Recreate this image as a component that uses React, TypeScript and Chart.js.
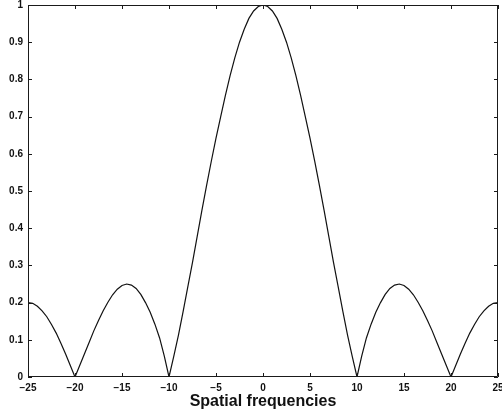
import React, { useEffect, useRef } from "react";
import { Chart, registerables } from "chart.js";

Chart.register(...registerables);

const X_VALUES = [
  -25, -24.5, -24, -23.5, -23, -22.5, -22, -21.5, -21, -20.5,
  -20, -19.5, -19, -18.5, -18, -17.5, -17, -16.5, -16, -15.5,
  -15, -14.5, -14, -13.5, -13, -12.5, -12, -11.5, -11, -10.5,
  -10, -9.5, -9, -8.5, -8, -7.5, -7, -6.5, -6, -5.5,
  -5, -4.5, -4, -3.5, -3, -2.5, -2, -1.5, -1, -0.5,
  0,
  0.5, 1, 1.5, 2, 2.5, 3, 3.5, 4, 4.5, 5,
  5.5, 6, 6.5, 7, 7.5, 8, 8.5, 9, 9.5, 10,
  10.5, 11, 11.5, 12, 12.5, 13, 13.5, 14, 14.5, 15,
  15.5, 16, 16.5, 17, 17.5, 18, 18.5, 19, 19.5, 20,
  20.5, 21, 21.5, 22, 22.5, 23, 23.5, 24, 24.5, 25,
];

const RESPONSE = [
  0.2, 0.198, 0.19, 0.178, 0.162, 0.141, 0.118, 0.091, 0.062, 0.031,
  0, 0.031, 0.062, 0.093, 0.124, 0.152, 0.178, 0.201, 0.221, 0.236,
  0.246, 0.25, 0.247, 0.238, 0.222, 0.2, 0.174, 0.142, 0.105, 0.056,
  0, 0.055, 0.112, 0.176, 0.242, 0.308, 0.378, 0.448, 0.515, 0.58,
  0.642, 0.7, 0.757, 0.81, 0.858, 0.9, 0.935, 0.964, 0.984, 0.996,
  1,
  0.996, 0.984, 0.964, 0.935, 0.9, 0.858, 0.81, 0.757, 0.7, 0.642,
  0.58, 0.515, 0.448, 0.378, 0.308, 0.242, 0.176, 0.112, 0.055, 0,
  0.056, 0.105, 0.142, 0.174, 0.2, 0.222, 0.238, 0.247, 0.25, 0.246,
  0.236, 0.221, 0.201, 0.178, 0.152, 0.124, 0.093, 0.062, 0.031, 0,
  0.031, 0.062, 0.091, 0.118, 0.141, 0.162, 0.178, 0.19, 0.198, 0.2,
];

const X_TITLE = "Spatial frequencies";

const boxPlugin = {
  id: "matlabBox",
  afterDatasetsDraw(chart: any) {
    const { ctx, chartArea, scales } = chart;
    const { left, right, top, bottom } = chartArea;
    const tl = 4;
    ctx.save();
    ctx.strokeStyle = "#1a1a1a";
    ctx.lineWidth = 1;
    ctx.beginPath();
    ctx.rect(Math.round(left) + 0.5, Math.round(top) + 0.5, Math.round(right - left) - 1, Math.round(bottom - top) - 1);
    ctx.stroke();
    ctx.beginPath();
    for (const t of scales.x.ticks) {
      const px = Math.round(scales.x.getPixelForValue(t.value)) + 0.5;
      ctx.moveTo(px, bottom);
      ctx.lineTo(px, bottom - tl);
      ctx.moveTo(px, top);
      ctx.lineTo(px, top + tl);
    }
    for (const t of scales.y.ticks) {
      const py = Math.round(scales.y.getPixelForValue(t.value)) + 0.5;
      ctx.moveTo(left, py);
      ctx.lineTo(left + tl, py);
      ctx.moveTo(right, py);
      ctx.lineTo(right - tl, py);
    }
    ctx.stroke();
    ctx.restore();
  },
};

export default function App() {
  const ref = useRef<HTMLCanvasElement | null>(null);

  useEffect(() => {
    document.body.style.margin = "0";
    const canvas = ref.current;
    if (!canvas) return;
    const chart = new Chart(canvas, {
      type: "line",
      data: {
        datasets: [
          {
            data: X_VALUES.map((x, i) => ({ x, y: RESPONSE[i] })),
            borderColor: "#111111",
            borderWidth: 1.2,
            pointRadius: 0,
            tension: 0,
            fill: false,
          },
        ],
      },
      options: {
        responsive: false,
        animation: false,
        events: [],
        layout: { padding: { top: 5, right: 4, left: 0, bottom: 0 } },
        plugins: {
          legend: { display: false },
          tooltip: { enabled: false },
        },
        scales: {
          x: {
            type: "linear",
            min: -25,
            max: 25,
            grid: { display: false, drawTicks: false },
            border: { display: false },
            ticks: {
              stepSize: 5,
              padding: 5,
              color: "#111",
              maxRotation: 0,
              autoSkip: false,
              font: { family: "Liberation Sans", size: 10, weight: "bold" },
              callback: (v: any) => (v < 0 ? "\u2212" + Math.abs(v) : String(v)),
            },
            title: {
              display: true,
              text: X_TITLE,
              color: "#111",
              font: { family: "Liberation Sans", size: 16, weight: "bold" },
              padding: { top: 0, bottom: 4 },
            },
            afterFit: (s: any) => {
              s.height = 38;
              s.paddingLeft = 0;
              s.paddingRight = 0;
            },
          },
          y: {
            min: 0,
            max: 1,
            grid: { display: false, drawTicks: false },
            border: { display: false },
            ticks: {
              stepSize: 0.1,
              padding: 5,
              color: "#111",
              font: { family: "Liberation Sans", size: 10, weight: "bold" },
              callback: (v: any) => String(Number(Number(v).toFixed(1))),
            },
            afterFit: (s: any) => {
              s.width = 28;
              s.paddingTop = 0;
              s.paddingBottom = 0;
            },
          },
        },
      },
      plugins: [boxPlugin],
    } as any);
    return () => chart.destroy();
  }, []);

  return (
    <div style={{ position: "absolute", left: 0, top: 0, width: 502, height: 415, background: "#fff" }}>
      <canvas ref={ref} width={502} height={415} style={{ display: "block" }} />
    </div>
  );
}
